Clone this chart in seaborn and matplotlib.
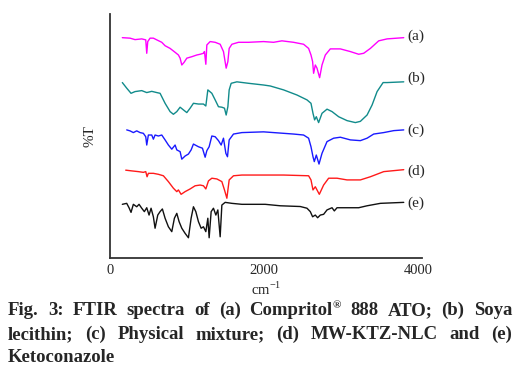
import matplotlib
matplotlib.use("Agg")
import matplotlib.pyplot as plt
import pandas as pd
import seaborn as sns

# FTIR traces (x in cm-1, y in stacked %T units)
a_wn = [160, 260, 325, 412, 464, 477, 490, 520, 563, 607, 672, 715, 780, 845, 888, 910, 932, 962, 997,
        1062, 1127, 1170, 1213, 1226, 1244, 1257, 1300, 1365, 1430, 1473, 1508, 1530, 1547, 1582, 1668,
        1798, 1993, 2123, 2232, 2383, 2513, 2578, 2609, 2630, 2643, 2665, 2687, 2721, 2752, 2795, 2860,
        2990, 3120, 3228, 3293, 3380, 3488, 3597, 3813]
a_t = [90.3, 90.1, 89.5, 89.8, 89.4, 83.9, 88.7, 90.1, 90.1, 89.4, 88.4, 87.0, 85.9, 84.3, 83.2, 81.9, 79.1,
       80.2, 81.9, 82.5, 83.2, 83.5, 83.9, 84.6, 79.4, 87.3, 88.7, 88.4, 87.6, 84.6, 77.8, 80.5, 85.9, 87.6,
       88.4, 88.4, 88.7, 88.4, 89.0, 88.4, 87.6, 85.9, 83.2, 80.5, 75.7, 79.1, 77.8, 73.9, 79.1, 83.2, 85.7,
       85.7, 84.6, 83.5, 83.9, 85.9, 89.0, 89.8, 90.3]

b_wn = [160, 217, 273, 325, 412, 477, 542, 607, 650, 715, 780, 823, 867, 910, 953, 997, 1040, 1083, 1148,
        1213, 1244, 1270, 1322, 1365, 1408, 1452, 1486, 1508, 1530, 1547, 1573, 1647, 1798, 1993, 2080,
        2253, 2427, 2557, 2609, 2635, 2656, 2678, 2708, 2752, 2817, 2882, 2968, 3077, 3185, 3250, 3337,
        3402, 3467, 3545, 3597, 3813]
b_t = [71.9, 69.6, 67.5, 68.2, 68.6, 67.8, 68.3, 67.8, 67.5, 63.4, 60.0, 58.9, 60.0, 61.8, 60.7, 59.6, 61.4,
       63.4, 63.1, 63.1, 62.3, 68.9, 67.5, 64.8, 62.0, 61.8, 61.4, 58.6, 62.0, 68.9, 71.6, 72.2, 71.6, 70.9,
       70.5, 68.9, 66.8, 64.8, 63.4, 59.3, 56.6, 57.9, 55.5, 59.3, 61.0, 60.0, 57.9, 56.3, 55.5, 56.0, 58.6,
       62.7, 68.2, 71.9, 71.9, 72.2]

c_wn = [217, 260, 303, 347, 390, 433, 464, 477, 498, 542, 563, 585, 628, 672, 715, 758, 802, 845, 867, 910,
        932, 975, 1018, 1053, 1083, 1148, 1200, 1235, 1257, 1287, 1322, 1365, 1408, 1443, 1473, 1504, 1525,
        1547, 1603, 1712, 1993, 2123, 2383, 2513, 2578, 2609, 2635, 2652, 2678, 2713, 2752, 2817, 2903,
        2990, 3120, 3250, 3337, 3423, 3553, 3683, 3813]
c_t = [52.5, 52.1, 51.4, 52.1, 51.4, 51.1, 49.7, 46.3, 50.4, 50.4, 48.7, 50.4, 50.0, 50.4, 48.4, 46.3, 44.6,
       46.3, 44.3, 43.6, 40.5, 41.8, 42.6, 44.3, 46.7, 45.6, 45.0, 41.3, 44.0, 45.6, 50.0, 49.7, 48.1, 46.3,
       49.1, 42.9, 41.5, 48.4, 50.8, 51.4, 51.7, 51.4, 50.8, 50.4, 49.1, 45.6, 41.5, 39.5, 42.2, 38.5, 42.9,
       47.7, 49.1, 49.5, 48.4, 48.1, 49.1, 50.8, 51.4, 52.2, 52.5]

d_wn = [204, 282, 368, 433, 464, 481, 498, 563, 628, 693, 758, 823, 867, 888, 923, 975, 1040, 1105, 1170,
        1213, 1244, 1278, 1322, 1387, 1452, 1486, 1517, 1547, 1603, 1712, 2015, 2253, 2578, 2609, 2635,
        2665, 2687, 2717, 2773, 2838, 2947, 3077, 3250, 3380, 3553, 3813]
d_t = [36.0, 35.7, 35.4, 35.1, 35.4, 33.3, 34.7, 34.7, 34.3, 33.7, 31.3, 28.6, 27.2, 27.9, 26.1, 27.2, 28.3,
       29.6, 29.9, 29.6, 28.3, 31.6, 32.7, 32.4, 31.3, 27.9, 24.5, 32.0, 33.7, 34.0, 34.0, 34.0, 33.7, 32.0,
       27.9, 29.2, 27.9, 26.1, 29.9, 32.7, 32.7, 32.0, 32.0, 33.3, 35.4, 36.2]

e_wn = [160, 217, 247, 273, 303, 347, 377, 412, 446, 477, 507, 533, 563, 585, 620, 650, 680, 715, 758, 802,
        836, 867, 897, 932, 975, 1018, 1053, 1083, 1114, 1148, 1183, 1213, 1244, 1270, 1287, 1313, 1343,
        1374, 1400, 1430, 1452, 1495, 1582, 1712, 2015, 2210, 2470, 2557, 2600, 2630, 2665, 2695, 2730,
        2773, 2817, 2882, 2912, 2947, 3077, 3228, 3337, 3510, 3813]
e_t = [22.0, 22.4, 20.6, 18.7, 22.0, 21.0, 22.0, 20.4, 19.0, 20.6, 17.6, 20.4, 16.9, 12.2, 17.6, 19.0, 20.1,
       16.3, 12.8, 10.8, 16.3, 18.3, 14.9, 12.2, 10.1, 8.3, 16.3, 21.0, 19.0, 14.9, 12.2, 12.8, 10.8, 16.3,
       8.3, 19.0, 20.4, 17.6, 19.7, 8.7, 21.7, 22.8, 22.4, 22.0, 22.0, 21.4, 21.1, 20.4, 19.0, 16.9, 17.6,
       16.5, 17.6, 17.9, 19.7, 20.6, 19.3, 20.6, 20.6, 20.6, 21.4, 22.4, 22.8]

labels = ["(a)", "(b)", "(c)", "(d)", "(e)"]
label_y = [91.0, 73.8, 52.5, 35.7, 22.6]
colors = ["#ff00ff", "#118b8b", "#1a1aff", "#ff1a1a", "#111111"]
x_ticks = [0, 2000, 4000]

caption = [
    ["Fig.", "3:", "FTIR", "spectra", "of", "(a)", "Compritol", "888", "ATO;", "(b)", "Soya"],
    ["lecithin;", "(c)", "Physical", "mixture;", "(d)", "MW-KTZ-NLC", "and", "(e)"],
    ["Ketoconazole"],
]
superscripts = {"Compritol": "®"}

sns.set_style("white")
plt.rcParams["font.family"] = ["Liberation Serif", "DejaVu Serif"]
plt.rcParams["mathtext.fontset"] = "custom"
plt.rcParams["mathtext.rm"] = "Liberation Serif"

fig = plt.figure(figsize=(5.19, 3.67), dpi=100)
ax = fig.add_axes([110 / 519, 1 - 258 / 367, 312 / 519, 244 / 367])

traces = [(a_wn, a_t), (b_wn, b_t), (c_wn, c_t), (d_wn, d_t), (e_wn, e_t)]
for (wn, t), col in zip(traces, colors):
    df = pd.DataFrame({"wn": wn, "t": t})
    sns.lineplot(data=df, x="wn", y="t", ax=ax, color=col, lw=1.0,
                 sort=False, estimator=None)

for lab, y in zip(labels, label_y):
    ax.text(3860, y, lab, fontsize=11, ha="left", va="center")

ax.set_xlim(0, 4050)
ax.set_ylim(0, 100)
ax.set_xticks(x_ticks)
ax.set_xticklabels([str(v) for v in x_ticks], fontsize=10.5)
ax.set_yticks([])
ax.tick_params(axis="x", length=0, pad=4)
ax.set_xlabel(r"cm$^{\mathregular{-1}}$", fontsize=10.5, labelpad=3)
ax.set_ylabel("%T", fontsize=11, labelpad=10)
sns.despine(ax=ax)
for side in ["left", "bottom"]:
    ax.spines[side].set_color("#333333")
    ax.spines[side].set_linewidth(1.3)

# caption, justified like the journal text
renderer = fig.canvas.get_renderer()
W = fig.bbox.width
H = fig.bbox.height
baselines = [315, 339, 362]
for i, (words, yb) in enumerate(zip(caption, baselines)):
    texts, widths, sups = [], [], []
    for w in words:
        t = fig.text(0, 1 - yb / H, w, fontsize=13.5, fontweight="bold", va="baseline")
        wd = t.get_window_extent(renderer).width
        s = None
        if w in superscripts:
            s = fig.text(0, 1 - (yb - 7) / H, superscripts[w], fontsize=8,
                         fontweight="bold", va="baseline")
            wd += s.get_window_extent(renderer).width
        texts.append(t)
        widths.append(wd)
        sups.append(s)
    x0, x1 = 8, 512
    if len(words) > 1 and i < len(caption) - 1:
        gap = (x1 - x0 - sum(widths)) / (len(words) - 1)
    else:
        gap = 4
    x = x0
    for t, s, w in zip(texts, sups, widths):
        t.set_x(x / W)
        if s is not None:
            s.set_x((x + t.get_window_extent(renderer).width) / W)
        x += w + gap

fig.savefig("out.png", dpi=100)
